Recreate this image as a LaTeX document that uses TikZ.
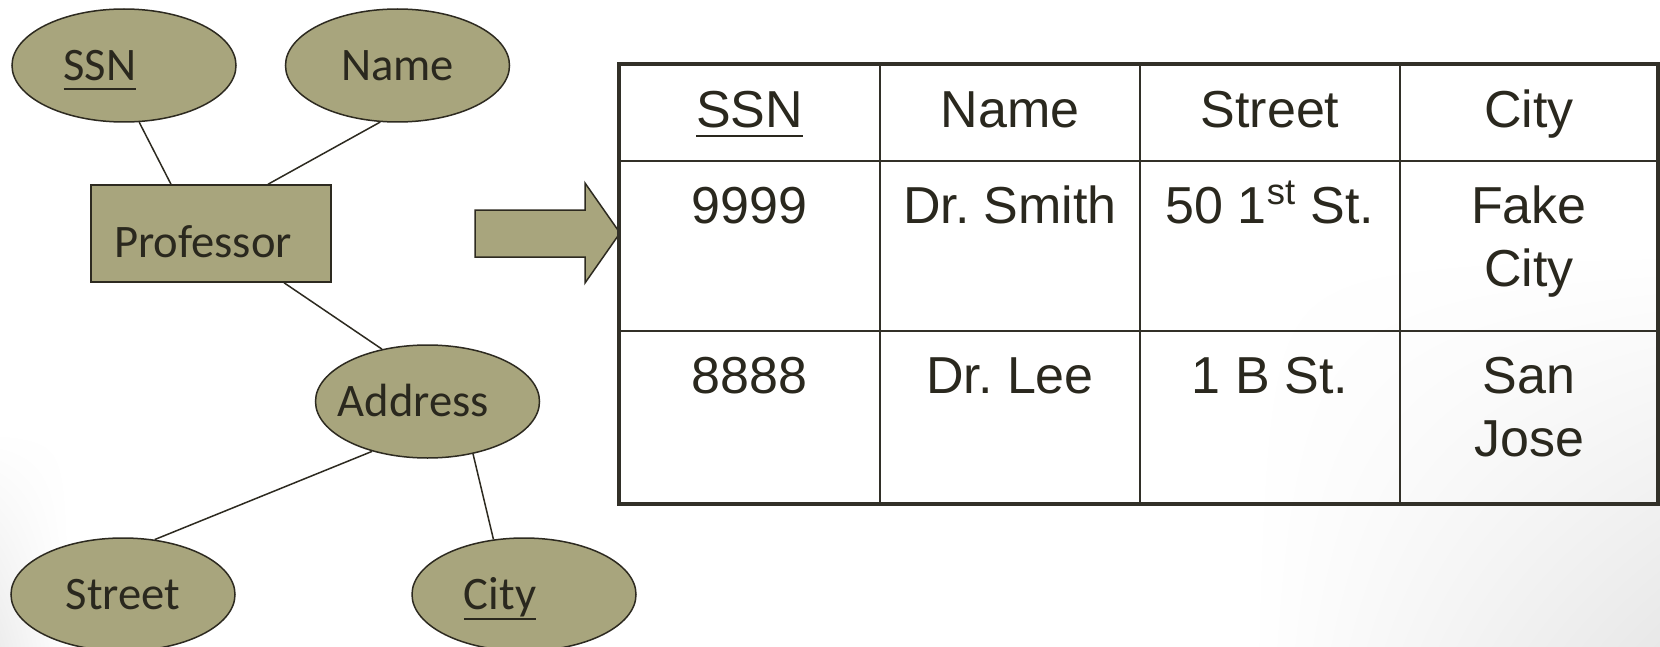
\documentclass[tikz,border=0pt]{standalone}
\usepackage{fontspec}
\setmainfont{Carlito}
\newfontfamily\tabfont{Liberation Sans}
\usetikzlibrary{positioning,shapes.geometric,shadings}
\definecolor{erfill}{RGB}{168,165,125}
\definecolor{erline}{RGB}{45,42,32}
\definecolor{ertext}{RGB}{42,40,30}
\definecolor{tabline}{RGB}{50,48,40}
\frenchspacing
\newcommand{\keyul}[1]{\setbox0\hbox{#1}\rlap{\rule[-5pt]{\wd0}{1pt}}\box0}
\tikzset{main base/.style={draw=erline,line width=0.75pt,fill=erfill,text=ertext,
    font=\fontsize{23.3}{28}\selectfont,text height=15pt,text depth=0pt}, }
\tikzset{attr node/.style={ellipse,main base,inner sep=0pt,
    minimum width=112pt,minimum height=56.5pt}, }
\tikzset{entity node/.style={rectangle,main base,minimum width=120pt,minimum height=48.5pt}, }
\tikzset{linea/.style={draw=erline,line width=0.75pt}}
\tikzset{big arrow/.style={draw=erline,line width=0.75pt,fill=erfill}}
\tikzset{tab frame/.style={draw=tabline,line width=2.25pt}}
\tikzset{tab line/.style={draw=tabline,line width=1.1pt}}
\tikzset{cell/.style={anchor=base,align=center,inner sep=0pt,text=ertext,
    font=\tabfont\fontsize{26}{31.5}\selectfont}}
\begin{document}
\begin{tikzpicture}[x=0.5pt,y=-0.5pt]
  \useasboundingbox (0,0) rectangle (1660,647);
  \fill[white] (0,0) rectangle (1660,647);
  \shade[upper left=white,upper right=white,lower left=white,lower right=black!9]
    (1250,250) rectangle (1660,647);
  \shade[upper left=white,upper right=white,lower left=black!7,lower right=white]
    (0,430) rectangle (70,647);
%
    \node[attr node] (1) at (124,65.5) {\kern-24pt\keyul{SSN}};
    \node[attr node] (2) [right=24pt of 1] {Name};
    \node[entity node,text height=24pt] (3) at (211,233.5) {\kern-8pt Professor};
%
    \node[attr node] (4) at (427.5,401.5) {\kern-14pt Address};
    \node[attr node] (5) at (123,594.5) {Street};
    \node[attr node] (6) at (524,594.5) {\kern-24pt\keyul{City}};
%
    \coordinate (3a) at ([xshift=-20pt]3.north);
    \coordinate (3b) at ([xshift=28.5pt]3.north);
    \coordinate (3c) at ([xshift=36.5pt]3.south);
\foreach \x/\y in {1.285/3a,2.253/3b,3c/4.131,4.222/5.60,4.311/6.119}
  \path[linea] (\x) -- (\y);
%
  \filldraw[big arrow] (475,210) -- (585,210) -- (585,183) -- (620,233)
    -- (585,283) -- (585,257) -- (475,257) -- cycle;
%
\foreach \x in {880,1140,1400}
  \path[tab line] (\x,64) -- (\x,504);
\foreach \y in {161,331}
  \path[tab line] (619,\y) -- (1658,\y);
  \path[tab frame] (619,64) rectangle (1658,504);
%
    \node[cell] (h1) at (749.5,127) {\keyul{SSN}};
    \node[cell] (h2) at (1010,127) {Name};
    \node[cell] (h3) at (1270,127) {Street};
    \node[cell] (h4) at (1529,127) {City};
%
    \node[cell] (r11) at (749.5,223) {9999};
    \node[cell] (r12) at (1010,223) {Dr. Smith};
    \node[cell] (r13) at (1270,223) {50 1\textsuperscript{st} St.};
    \node[cell] (r14) at (1529,286) {Fake\\City};
%
    \node[cell] (r21) at (749.5,393) {8888};
    \node[cell] (r22) at (1010,393) {Dr. Lee};
    \node[cell] (r23) at (1270,393) {1 B St.};
    \node[cell] (r24) at (1529,456) {San\\Jose};
\end{tikzpicture}
\end{document}
